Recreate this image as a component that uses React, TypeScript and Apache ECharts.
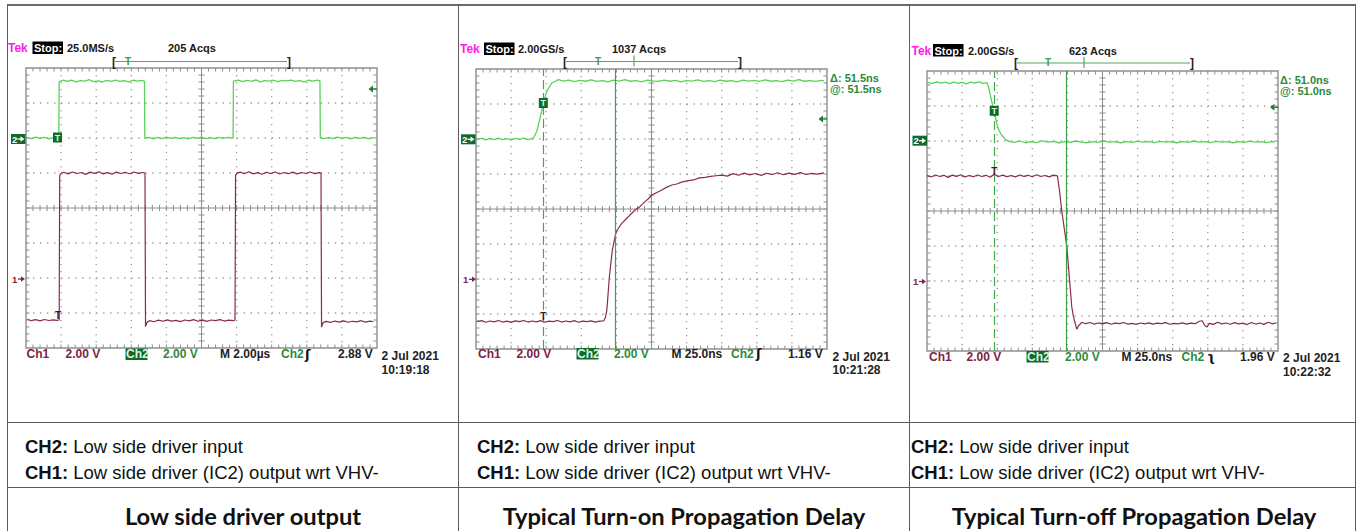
import React, { useEffect, useRef } from "react";
import * as echarts from "echarts";

// ---------- DATA ----------
const VOLTS_PER_DIV = 2;
const CH2_OFFSET_DIV = 2;
const CH1_OFFSET_DIV = -2;

// Panel 1: time in µs (2.00 µs/div), volts
const P1_X_RANGE = [-1.85, 18.15];
const P1_CH2: number[][] = [
  [-1.77, 0.03], [-1.55, -0.04], [-1.3, 0.05], [-1.05, -0.02], [-0.8, 0.04], [-0.55, -0.05], [-0.3, 0.02], [-0.08, -0.03], [0.02, 0.0],
  [0.04, 3.22], [0.25, 3.3], [0.5, 3.24], [0.75, 3.31], [1.0, 3.21], [1.25, 3.28], [1.5, 3.25], [1.75, 3.33], [2.0, 3.22], [2.25, 3.27], [2.5, 3.2], [2.75, 3.29], [3.0, 3.24], [3.25, 3.31], [3.5, 3.23], [3.75, 3.28], [4.0, 3.21], [4.25, 3.3], [4.5, 3.25], [4.75, 3.29], [4.9, 3.24],
  [4.92, -0.02], [5.15, 0.04], [5.4, -0.05], [5.65, 0.03], [5.9, -0.03], [6.15, 0.05], [6.4, -0.02], [6.65, 0.04], [6.9, -0.04], [7.15, 0.02], [7.4, -0.05], [7.65, 0.03], [7.9, -0.02], [8.15, 0.05], [8.4, -0.03], [8.65, 0.02], [8.9, -0.04], [9.15, 0.04], [9.4, -0.02], [9.65, 0.03], [9.95, -0.01],
  [9.97, 3.25], [10.25, 3.31], [10.5, 3.22], [10.75, 3.29], [11.0, 3.24], [11.25, 3.32], [11.5, 3.21], [11.75, 3.28], [12.0, 3.25], [12.25, 3.3], [12.5, 3.22], [12.75, 3.29], [13.0, 3.26], [13.25, 3.31], [13.5, 3.23], [13.75, 3.28], [14.0, 3.21], [14.25, 3.3], [14.5, 3.25], [14.75, 3.31], [14.9, 3.26],
  [14.92, 0.01], [15.15, -0.04], [15.4, 0.04], [15.65, -0.03], [15.9, 0.05], [16.15, -0.02], [16.4, 0.03], [16.65, -0.05], [16.9, 0.03], [17.15, -0.02], [17.4, 0.04], [17.65, -0.03], [17.95, 0.02],
];
const P1_CH1: number[][] = [
  [-1.77, -2.36], [-1.55, -2.44], [-1.3, -2.38], [-1.05, -2.45], [-0.8, -2.37], [-0.55, -2.43], [-0.3, -2.39], [-0.1, -2.42], [0.04, -2.4],
  [0.07, 5.85], [0.15, 5.97], [0.3, 6.04], [0.55, 5.95], [0.8, 6.06], [1.05, 5.97], [1.3, 6.03], [1.55, 5.92], [1.8, 6.05], [2.05, 5.98], [2.3, 6.07], [2.55, 5.95], [2.8, 6.02], [3.05, 5.93], [3.3, 6.05], [3.55, 5.97], [3.8, 6.04], [4.05, 5.96], [4.3, 6.06], [4.55, 5.98], [4.8, 6.03], [4.93, 6.0],
  [4.96, -2.78], [5.05, -2.52], [5.2, -2.44], [5.45, -2.5], [5.7, -2.41], [5.95, -2.47], [6.2, -2.39], [6.45, -2.46], [6.7, -2.42], [6.95, -2.49], [7.2, -2.4], [7.45, -2.45], [7.7, -2.38], [7.95, -2.47], [8.2, -2.41], [8.45, -2.48], [8.7, -2.4], [8.95, -2.44], [9.2, -2.38], [9.45, -2.46], [9.7, -2.41], [9.95, -2.44], [10.06, -2.4],
  [10.09, 5.87], [10.17, 5.98], [10.35, 6.05], [10.6, 5.96], [10.85, 6.07], [11.1, 5.95], [11.35, 6.02], [11.6, 5.93], [11.85, 6.04], [12.1, 5.97], [12.35, 6.06], [12.6, 5.94], [12.85, 6.03], [13.1, 5.96], [13.35, 6.05], [13.6, 5.95], [13.85, 6.03], [14.1, 5.97], [14.35, 6.06], [14.6, 5.96], [14.85, 6.02], [14.96, 5.99],
  [14.99, -2.8], [15.08, -2.55], [15.25, -2.48], [15.5, -2.54], [15.75, -2.46], [16.0, -2.52], [16.25, -2.45], [16.5, -2.53], [16.75, -2.47], [17.0, -2.51], [17.25, -2.44], [17.5, -2.52], [17.75, -2.46], [17.95, -2.5],
];

// Panel 2: time in ns (25.0 ns/div), volts
const P2_X_RANGE = [-48, 202];
const P2_CURSORS = [0, 51.5];
const P2_CH2: number[][] = [
  [-47.2, -0.02], [-44, 0.04], [-41, -0.05], [-38, 0.03], [-35, -0.03], [-32, 0.05], [-29, -0.04], [-26, 0.02], [-23, -0.05], [-20, 0.04], [-17, -0.02], [-14, 0.05], [-11, -0.03], [-8.5, 0.02], [-7.1, 0.06],
  [-4.7, 0.43], [-2.35, 1.2], [0, 2.06], [2.4, 2.72], [6.0, 3.2], [10.7, 3.39],
  [14, 3.31], [18, 3.37], [22, 3.28], [26, 3.35], [30, 3.3], [34, 3.38], [38, 3.29], [42, 3.34], [46, 3.27], [50, 3.36], [54, 3.31], [58, 3.39], [62, 3.3], [66, 3.33], [70, 3.27], [74, 3.36], [78, 3.32], [82, 3.29], [86, 3.37], [90, 3.3], [94, 3.35], [98, 3.26], [102, 3.34], [106, 3.31], [110, 3.38], [114, 3.29], [118, 3.33], [122, 3.28], [126, 3.36], [130, 3.3], [134, 3.34], [138, 3.27], [142, 3.37], [146, 3.31], [150, 3.35], [154, 3.29], [158, 3.38], [162, 3.3], [166, 3.33], [170, 3.28], [174, 3.36], [178, 3.31], [182, 3.39], [186, 3.3], [190, 3.34], [194, 3.29], [198, 3.35], [199.9, 3.32],
];
const P2_CH1: number[][] = [
  [-47.2, -2.44], [-44, -2.38], [-41, -2.47], [-38, -2.4], [-35, -2.45], [-32, -2.37], [-29, -2.46], [-26, -2.41], [-23, -2.48], [-20, -2.39], [-17, -2.44], [-14, -2.37], [-11, -2.46], [-8, -2.4], [-5, -2.45], [-2, -2.38], [1, -2.47], [4, -2.41], [7, -2.44], [10, -2.37], [13, -2.46], [16, -2.4], [19, -2.45], [22, -2.38], [25, -2.47], [28, -2.41], [31, -2.44], [34, -2.39], [37, -2.46], [40, -2.41], [42.9, -2.4],
  [44.2, -2.2], [45.2, -1.77], [47.0, 0.13], [49.1, 1.66], [51.6, 2.61], [53.4, 2.9], [55.8, 3.18], [58.2, 3.37], [61.5, 3.64], [65.3, 3.94], [68.5, 4.12], [72.4, 4.42], [75, 4.6], [77.2, 4.8], [80.5, 4.93], [84.3, 5.09], [88, 5.25], [91.5, 5.37], [95, 5.43], [99, 5.55], [103.3, 5.62], [107, 5.66], [111, 5.78], [115.2, 5.81], [119, 5.86], [123, 5.9], [127.1, 5.94],
  [131, 5.88], [135, 6.02], [139, 5.93], [143, 6.05], [147, 5.95], [151, 6.03], [155, 5.92], [159, 6.04], [163, 5.97], [167, 6.07], [171, 5.96], [175, 6.05], [179, 5.98], [183, 6.08], [187, 5.97], [191, 6.04], [195, 5.99], [199.9, 6.06],
];

// Panel 3: time in ns (25.0 ns/div), volts
const P3_X_RANGE = [-48, 202];
const P3_CURSORS = [0, 51.0];
const P3_CH2: number[][] = [
  [-47.9, 3.35], [-44, 3.29], [-41, 3.38], [-38, 3.31], [-35, 3.36], [-32, 3.28], [-29, 3.37], [-26, 3.3], [-23, 3.35], [-20, 3.27], [-17, 3.36], [-14, 3.31], [-11, 3.38], [-8, 3.29], [-5.3, 3.33],
  [-4.2, 3.1], [-3.2, 2.74], [-2.0, 2.3], [-0.85, 1.94], [0.5, 1.45], [1.6, 1.03], [3.2, 0.62], [5.1, 0.34], [8, 0.08], [11, -0.04],
  [14, -0.08], [18, 0.0], [22, -0.1], [26, -0.03], [30, -0.09], [34, 0.01], [38, -0.07], [42, -0.02], [46, -0.1], [50, -0.04], [54, -0.08], [58, 0.0], [62, -0.06], [66, -0.11], [70, -0.03], [74, -0.08], [78, 0.01], [82, -0.07], [86, -0.03], [90, -0.1], [94, -0.04], [98, -0.08], [102, -0.01], [106, -0.07], [110, -0.03], [114, -0.09], [118, -0.02], [122, -0.07], [126, -0.04], [130, -0.1], [134, -0.03], [138, -0.08], [142, 0.0], [146, -0.06], [150, -0.03], [154, -0.09], [158, -0.02], [162, -0.07], [166, -0.04], [170, -0.1], [174, -0.03], [178, -0.08], [182, -0.01], [186, -0.07], [190, -0.04], [194, -0.09], [198, -0.03], [199.8, -0.06],
];
const P3_CH1: number[][] = [
  [-47.9, 6.02], [-45, 5.94], [-42, 6.06], [-39, 5.97], [-36, 6.04], [-33, 5.92], [-30, 6.05], [-27, 5.98], [-24, 6.07], [-21, 5.95], [-18, 6.03], [-15, 5.96], [-12, 6.06], [-9, 5.97], [-6, 6.04], [-3, 5.93], [0, 6.1], [3, 5.97], [6, 6.05], [9, 5.96], [12, 6.03], [15, 5.95], [18, 6.06], [21, 5.98], [24, 6.04], [27, 5.96], [30, 6.07], [33, 5.97], [36, 6.03], [39, 5.95], [42, 6.05], [44.9, 6.01],
  [46.3, 5.2], [48.0, 4.0], [51.6, 1.96], [55.1, -1.47], [56.3, -2.04], [58.7, -2.76], [59.8, -2.57], [62.3, -2.36],
  [65, -2.44], [68, -2.37], [71, -2.46], [74, -2.4], [77, -2.45], [80, -2.38], [83, -2.47], [86, -2.41], [89, -2.44], [92, -2.37], [95, -2.46], [98, -2.42], [101, -2.48], [104, -2.4], [107, -2.45], [110, -2.39], [113, -2.46], [116, -2.41], [119, -2.44], [122, -2.38], [125, -2.47], [128, -2.42], [131, -2.45], [134, -2.39], [137, -2.46], [140, -2.41], [143, -2.44], [146, -2.3], [148, -2.27], [150, -2.56], [151.5, -2.63], [153, -2.42], [156, -2.48], [159, -2.36], [162, -2.45], [165, -2.4], [168, -2.47], [171, -2.38], [174, -2.45], [177, -2.41], [180, -2.49], [183, -2.37], [186, -2.46], [189, -2.4], [192, -2.48], [195, -2.36], [198, -2.45], [200.3, -2.4],
];

const TRIG_LEVELS = [2.88, 1.16, 1.96];
const TIMEBASES = ["M 2.00\u00b5s", "M 25.0ns", "M 25.0ns"];
const RATES = ["25.0MS/s", "2.00GS/s", "2.00GS/s"];
const ACQS = ["205 Acqs", "1037 Acqs", "623 Acqs"];
const DATES = ["2 Jul 2021", "2 Jul 2021", "2 Jul 2021"];
const TIMES = ["10:19:18", "10:21:28", "10:22:32"];
const SLOPES = ["\u0283", "\u0283", "\u0285"];
const CH_LINE_2 = "Low side driver input";
const CH_LINE_1 = "Low side driver (IC2) output wrt VHV-";
const CAPTIONS = ["Low side driver output", "Typical Turn-on Propagation Delay", "Typical Turn-off Propagation Delay"];

// ---------- STYLE / LAYOUT ----------
const W = 1361;
const H = 531;
const GREEN_TRACE = "#58d258";
const RED_TRACE = "#8a2b4b";
const MAROON = "#7d2343";
const GREEN_TXT = "#2b8a3a";
const DARK_GREEN = "#106a2e";
const SCOPE_FONT = "Liberation Sans";
const BODY_FONT = "Liberation Sans";
const CAPTION_FONT = "Lato";
const GRID_LINE = "#8e8e8e";
const GRID_DOT = "#9a9a9a";

const GRIDS = [
  { left: 26, top: 68, width: 351, height: 280 },
  { left: 476, top: 69, width: 351, height: 280 },
  { left: 927, top: 71, width: 351, height: 280 },
];

const toDiv = (pts: number[][], off: number) => pts.map(([t, v]) => [t, v / VOLTS_PER_DIV + off]);

function graticule(params: any) {
  const cs = params.coordSys;
  const x0 = cs.x, y0 = cs.y, w = cs.width, h = cs.height;
  const dx = w / 10, dy = h / 8;
  const ch: any[] = [];
  const ln = (x1: number, y1: number, x2: number, y2: number, stroke: string, lw: number, dash?: number[]) => ({
    type: "line",
    shape: { x1, y1, x2, y2 },
    style: { stroke, lineWidth: lw, lineDash: dash },
  });
  for (let i = 1; i < 10; i++) {
    if (i === 5) continue;
    const x = x0 + i * dx;
    ch.push(ln(x, y0, x, y0 + h, GRID_DOT, 1.3, [1.3, dy / 5 - 1.3]));
  }
  for (let j = 1; j < 8; j++) {
    if (j === 4) continue;
    const y = y0 + j * dy;
    ch.push(ln(x0, y, x0 + w, y, GRID_DOT, 1.3, [1.3, dx / 5 - 1.3]));
  }
  const xc = x0 + 5 * dx, yc = y0 + 4 * dy;
  ch.push(ln(x0, yc, x0 + w, yc, GRID_LINE, 1));
  ch.push(ln(xc, y0, xc, y0 + h, GRID_LINE, 1));
  for (let k = 1; k < 50; k++) {
    const x = x0 + (k * dx) / 5;
    ch.push(ln(x, yc - 3, x, yc + 3, GRID_LINE, 1));
    ch.push(ln(x, y0, x, y0 + 3.5, GRID_LINE, 1));
    ch.push(ln(x, y0 + h, x, y0 + h - 3.5, GRID_LINE, 1));
  }
  for (let k = 1; k < 40; k++) {
    const y = y0 + (k * dy) / 5;
    ch.push(ln(xc - 3, y, xc + 3, y, GRID_LINE, 1));
    ch.push(ln(x0, y, x0 + 3.5, y, GRID_LINE, 1));
    ch.push(ln(x0 + w, y, x0 + w - 3.5, y, GRID_LINE, 1));
  }
  ch.push({ type: "rect", shape: { x: x0, y: y0, width: w, height: h }, style: { fill: "none", stroke: GRID_LINE, lineWidth: 1.4 } });
  return { type: "group", children: ch };
}

// ---------- graphic helpers ----------
const txt = (x: number, y: number, text: string, fill: string, size = 11.5, extra: any = {}) => ({
  type: "text",
  x,
  y,
  z: 100,
  style: { text, fill, fontSize: size, fontWeight: "bold", fontFamily: SCOPE_FONT, align: "left", verticalAlign: "middle", ...extra },
});
const rect = (x: number, y: number, w: number, h: number, fill: string) => ({
  type: "rect",
  z: 99,
  shape: { x, y, width: w, height: h },
  style: { fill },
});
const line = (x1: number, y1: number, x2: number, y2: number, stroke: string, lw = 1) => ({
  type: "line",
  z: 99,
  shape: { x1, y1, x2, y2 },
  style: { stroke, lineWidth: lw },
});
// small right-pointing arrow (ground markers)
const arrowRight = (x: number, y: number, color: string) => [
  line(x, y, x + 4, y, color, 1.3),
  { type: "polygon", z: 101, shape: { points: [[x + 3, y - 2.8], [x + 7, y], [x + 3, y + 2.8]] }, style: { fill: color } },
];

type Deco = {
  headY: number; tekX: number; stopX: number; rateX: number; acqX: number;
  brL: number; brR: number; brY: number; trigTX: number; curTickX?: number;
  deltaX?: number; deltaY?: number; cursors?: number[];
  gnd2X: number; gnd2Y: number; trigBox: number[]; gnd1X: number; gnd1Y: number; redT: number[];
  arrow: number[];
  botY: number; bot: number[]; dateX: number; dateY: number; timeY: number;
};

const DECO: Deco[] = [
  {
    headY: 48, tekX: 8, stopX: 32.5, rateX: 67, acqX: 168, brL: 112, brR: 287, brY: 61.5, trigTX: 125,
    gnd2X: 11, gnd2Y: 139, trigBox: [57.5, 137.5], gnd1X: 12, gnd1Y: 279, redT: [58, 315.5], arrow: [372, 89],
    botY: 354, bot: [26.5, 65.5, 125.5, 163, 220, 281, 305, 338], dateX: 381.5, dateY: 356, timeY: 370,
  },
  {
    headY: 49, tekX: 460, stopX: 484, rateX: 518, acqX: 612, brL: 563, brR: 738, brY: 61.5, trigTX: 595, curTickX: 634,
    deltaX: 830, deltaY: 77.5, cursors: P2_CURSORS,
    gnd2X: 461, gnd2Y: 139.3, trigBox: [543.3, 103], gnd1X: 463, gnd1Y: 279.3, redT: [543.3, 316], arrow: [822, 119],
    botY: 353.5, bot: [478, 516.5, 576.5, 614, 671.5, 731, 756, 788], dateX: 832.5, dateY: 356.5, timeY: 370,
  },
  {
    headY: 50.5, tekX: 911.5, stopX: 933, rateX: 968, acqX: 1069, brL: 1014, brR: 1190, brY: 63, trigTX: 1045, curTickX: 1084,
    deltaX: 1280, deltaY: 79.5, cursors: P3_CURSORS,
    gnd2X: 912.5, gnd2Y: 140.7, trigBox: [994.2, 110.8], gnd1X: 913, gnd1Y: 281.5, redT: [994.3, 171], arrow: [1273.5, 107.3],
    botY: 356.5, bot: [929, 966.5, 1026.5, 1065, 1121.5, 1181.5, 1207, 1240], dateX: 1283, dateY: 358.3, timeY: 371.7,
  },
];

function panelDecor(i: number) {
  const d = DECO[i];
  const els: any[] = [];
  els.push(txt(d.tekX, d.headY, "Tek", "#ff1ae8", 12));
  els.push(rect(d.stopX, d.headY - 6.5, 30.5, 12.5, "#000"));
  els.push(txt(d.stopX + 1.5, d.headY, "Stop:", "#fff", 11));
  els.push(txt(d.rateX, d.headY, RATES[i], "#1a1a1a", 11));
  els.push(txt(d.acqX, d.headY, ACQS[i], "#1a1a1a", 11));
  // record bracket
  els.push(line(d.brL + 3, d.brY, d.brR, d.brY, "#55a860", 1));
  els.push(txt(d.brL, d.brY, "[", "#222", 12));
  els.push(txt(d.brR, d.brY, "]", "#222", 12));
  els.push(txt(d.trigTX, d.brY - 0.5, "T", "#3a9a48", 10));
  if (d.curTickX) els.push(line(d.curTickX, d.brY - 6, d.curTickX, d.brY + 5, "#55a860", 1.2));
  if (d.cursors && d.deltaX && d.deltaY) {
    const dv = (d.cursors[1] - d.cursors[0]).toFixed(1);
    els.push(txt(d.deltaX, d.deltaY, "\u0394: " + dv + "ns", GREEN_TXT, 11));
    els.push(txt(d.deltaX, d.deltaY + 11, "@: " + dv + "ns", GREEN_TXT, 11));
  }
  // channel 2 ground marker
  els.push(rect(d.gnd2X, d.gnd2Y - 5, 14.5, 10, DARK_GREEN));
  els.push(txt(d.gnd2X + 1, d.gnd2Y, "2", "#ffffff", 9.5));
  els.push(...arrowRight(d.gnd2X + 6.5, d.gnd2Y, "#ffffff"));
  // trigger box
  els.push(rect(d.trigBox[0] - 4.5, d.trigBox[1] - 5, 9, 10, DARK_GREEN));
  els.push(txt(d.trigBox[0], d.trigBox[1], "T", "#d8f5d8", 9, { align: "center" }));
  // channel 1 ground marker
  els.push(txt(d.gnd1X, d.gnd1Y, "1", MAROON, 9.5));
  els.push(...arrowRight(d.gnd1X + 6, d.gnd1Y, MAROON));
  // ch1 trigger position marker
  els.push(txt(d.redT[0], d.redT[1], "T", "#4a1426", 10, { align: "center" }));
  // trigger level arrow
  const [ax, ay] = d.arrow;
  els.push({ type: "polygon", z: 99, shape: { points: [[ax - 3.5, ay], [ax + 1, ay - 3.5], [ax + 1, ay + 3.5]] }, style: { fill: "#1f7a34" } });
  els.push(line(ax + 1, ay, ax + 5, ay, "#1f7a34", 1.3));
  // bottom readout
  const b = d.bot;
  els.push(txt(b[0], d.botY, "Ch1", MAROON, 12));
  els.push(txt(b[1], d.botY, "2.00 V", MAROON, 12));
  els.push(rect(b[2], d.botY - 5.5, 22, 11.5, DARK_GREEN));
  els.push(txt(b[2] + 0.5, d.botY, "Ch2", "#dff5df", 12));
  els.push(txt(b[3], d.botY, "2.00 V", GREEN_TXT, 12));
  els.push(txt(b[4], d.botY, TIMEBASES[i], "#222", 12));
  els.push(txt(b[5], d.botY, "Ch2", GREEN_TXT, 12));
  els.push(txt(b[6], d.botY, SLOPES[i], "#111", 13, { fontFamily: "DejaVu Sans" }));
  els.push(txt(b[7], d.botY, TRIG_LEVELS[i].toFixed(2) + " V", "#222", 12));
  els.push(txt(d.dateX, d.dateY, DATES[i], "#222", 12));
  els.push(txt(d.dateX, d.timeY, TIMES[i], "#222", 12));
  return els;
}

function tableGraphics() {
  const els: any[] = [];
  const c = "#5c5c5c";
  els.push(line(7, 5, 1356, 5, "#6a6a6a", 2));
  [7.5, 458.5, 909.5, 1355.5].forEach((x) => els.push(line(x, 5, x, H, c, 1)));
  [422.5, 487.5].forEach((y) => els.push(line(7, y, 1356, y, c, 1)));
  const colX = [25, 477, 911];
  colX.forEach((x) => {
    [["CH2:", CH_LINE_2, 446], ["CH1:", CH_LINE_1, 472]].forEach(([b, rest, y]) => {
      els.push({
        type: "text",
        x,
        y: y as number,
        z: 100,
        style: {
          text: "{b|" + b + "}{r| " + rest + "}",
          fill: "#111",
          fontSize: 18.5,
          fontFamily: BODY_FONT,
          verticalAlign: "middle",
          align: "left",
          rich: {
            b: { fontWeight: "bold", fontSize: 18.5, fontFamily: BODY_FONT, fill: "#111" },
            r: { fontWeight: "normal", fontSize: 18.5, fontFamily: BODY_FONT, fill: "#111" },
          },
        },
      });
    });
  });
  const capX = [243, 684, 1134];
  CAPTIONS.forEach((cap, i) => {
    els.push({
      type: "text",
      x: capX[i],
      y: 516,
      z: 100,
      style: { text: cap, fill: "#111", fontSize: 23.7, fontWeight: "bold", fontFamily: CAPTION_FONT, align: "center", verticalAlign: "middle" },
    });
  });
  return els;
}

function buildOption(): any {
  const ranges = [P1_X_RANGE, P2_X_RANGE, P3_X_RANGE];
  const ch2 = [P1_CH2, P2_CH2, P3_CH2];
  const ch1 = [P1_CH1, P2_CH1, P3_CH1];
  const cursors: (number[] | null)[] = [null, P2_CURSORS, P3_CURSORS];
  const series: any[] = [];
  GRIDS.forEach((_, i) => {
    series.push({ type: "custom", xAxisIndex: i, yAxisIndex: i, data: [[0, 0]], renderItem: graticule, silent: true, z: 1, clip: false });
    series.push({
      type: "line", xAxisIndex: i, yAxisIndex: i, data: toDiv(ch1[i], CH1_OFFSET_DIV), showSymbol: false, symbol: "none",
      lineStyle: { color: RED_TRACE, width: 1.2 }, silent: true, z: 3,
    });
    const c = cursors[i];
    series.push({
      type: "line", xAxisIndex: i, yAxisIndex: i, data: toDiv(ch2[i], CH2_OFFSET_DIV), showSymbol: false, symbol: "none",
      lineStyle: { color: GREEN_TRACE, width: 1.3 }, silent: true, z: 4,
      markLine: c
        ? {
            silent: true, symbol: ["none", "none"], label: { show: false }, animation: false,
            data: [
              { xAxis: c[0], lineStyle: { type: [9, 4], color: "#3faa4a", width: 1.2 } },
              { xAxis: c[1], lineStyle: { type: "solid", color: "#3f9f4f", width: 1.2 } },
            ],
          }
        : undefined,
    });
  });
  return {
    animation: false,
    backgroundColor: "#ffffff",
    grid: GRIDS.map((g) => ({ ...g, containLabel: false })),
    xAxis: GRIDS.map((_, i) => ({ type: "value", gridIndex: i, min: ranges[i][0], max: ranges[i][1], show: false })),
    yAxis: GRIDS.map((_, i) => ({ type: "value", gridIndex: i, min: -4, max: 4, show: false })),
    series,
    graphic: [...tableGraphics(), ...panelDecor(0), ...panelDecor(1), ...panelDecor(2)],
  };
}

export default function App() {
  const ref = useRef<HTMLDivElement>(null);
  useEffect(() => {
    const chart = echarts.init(ref.current!, undefined, { renderer: "svg", width: W, height: H });
    chart.setOption(buildOption());
    return () => chart.dispose();
  }, []);
  return (
    <div
      ref={ref}
      style={{ position: "fixed", left: 0, top: 0, width: W, height: H, background: "#fff" }}
    />
  );
}
